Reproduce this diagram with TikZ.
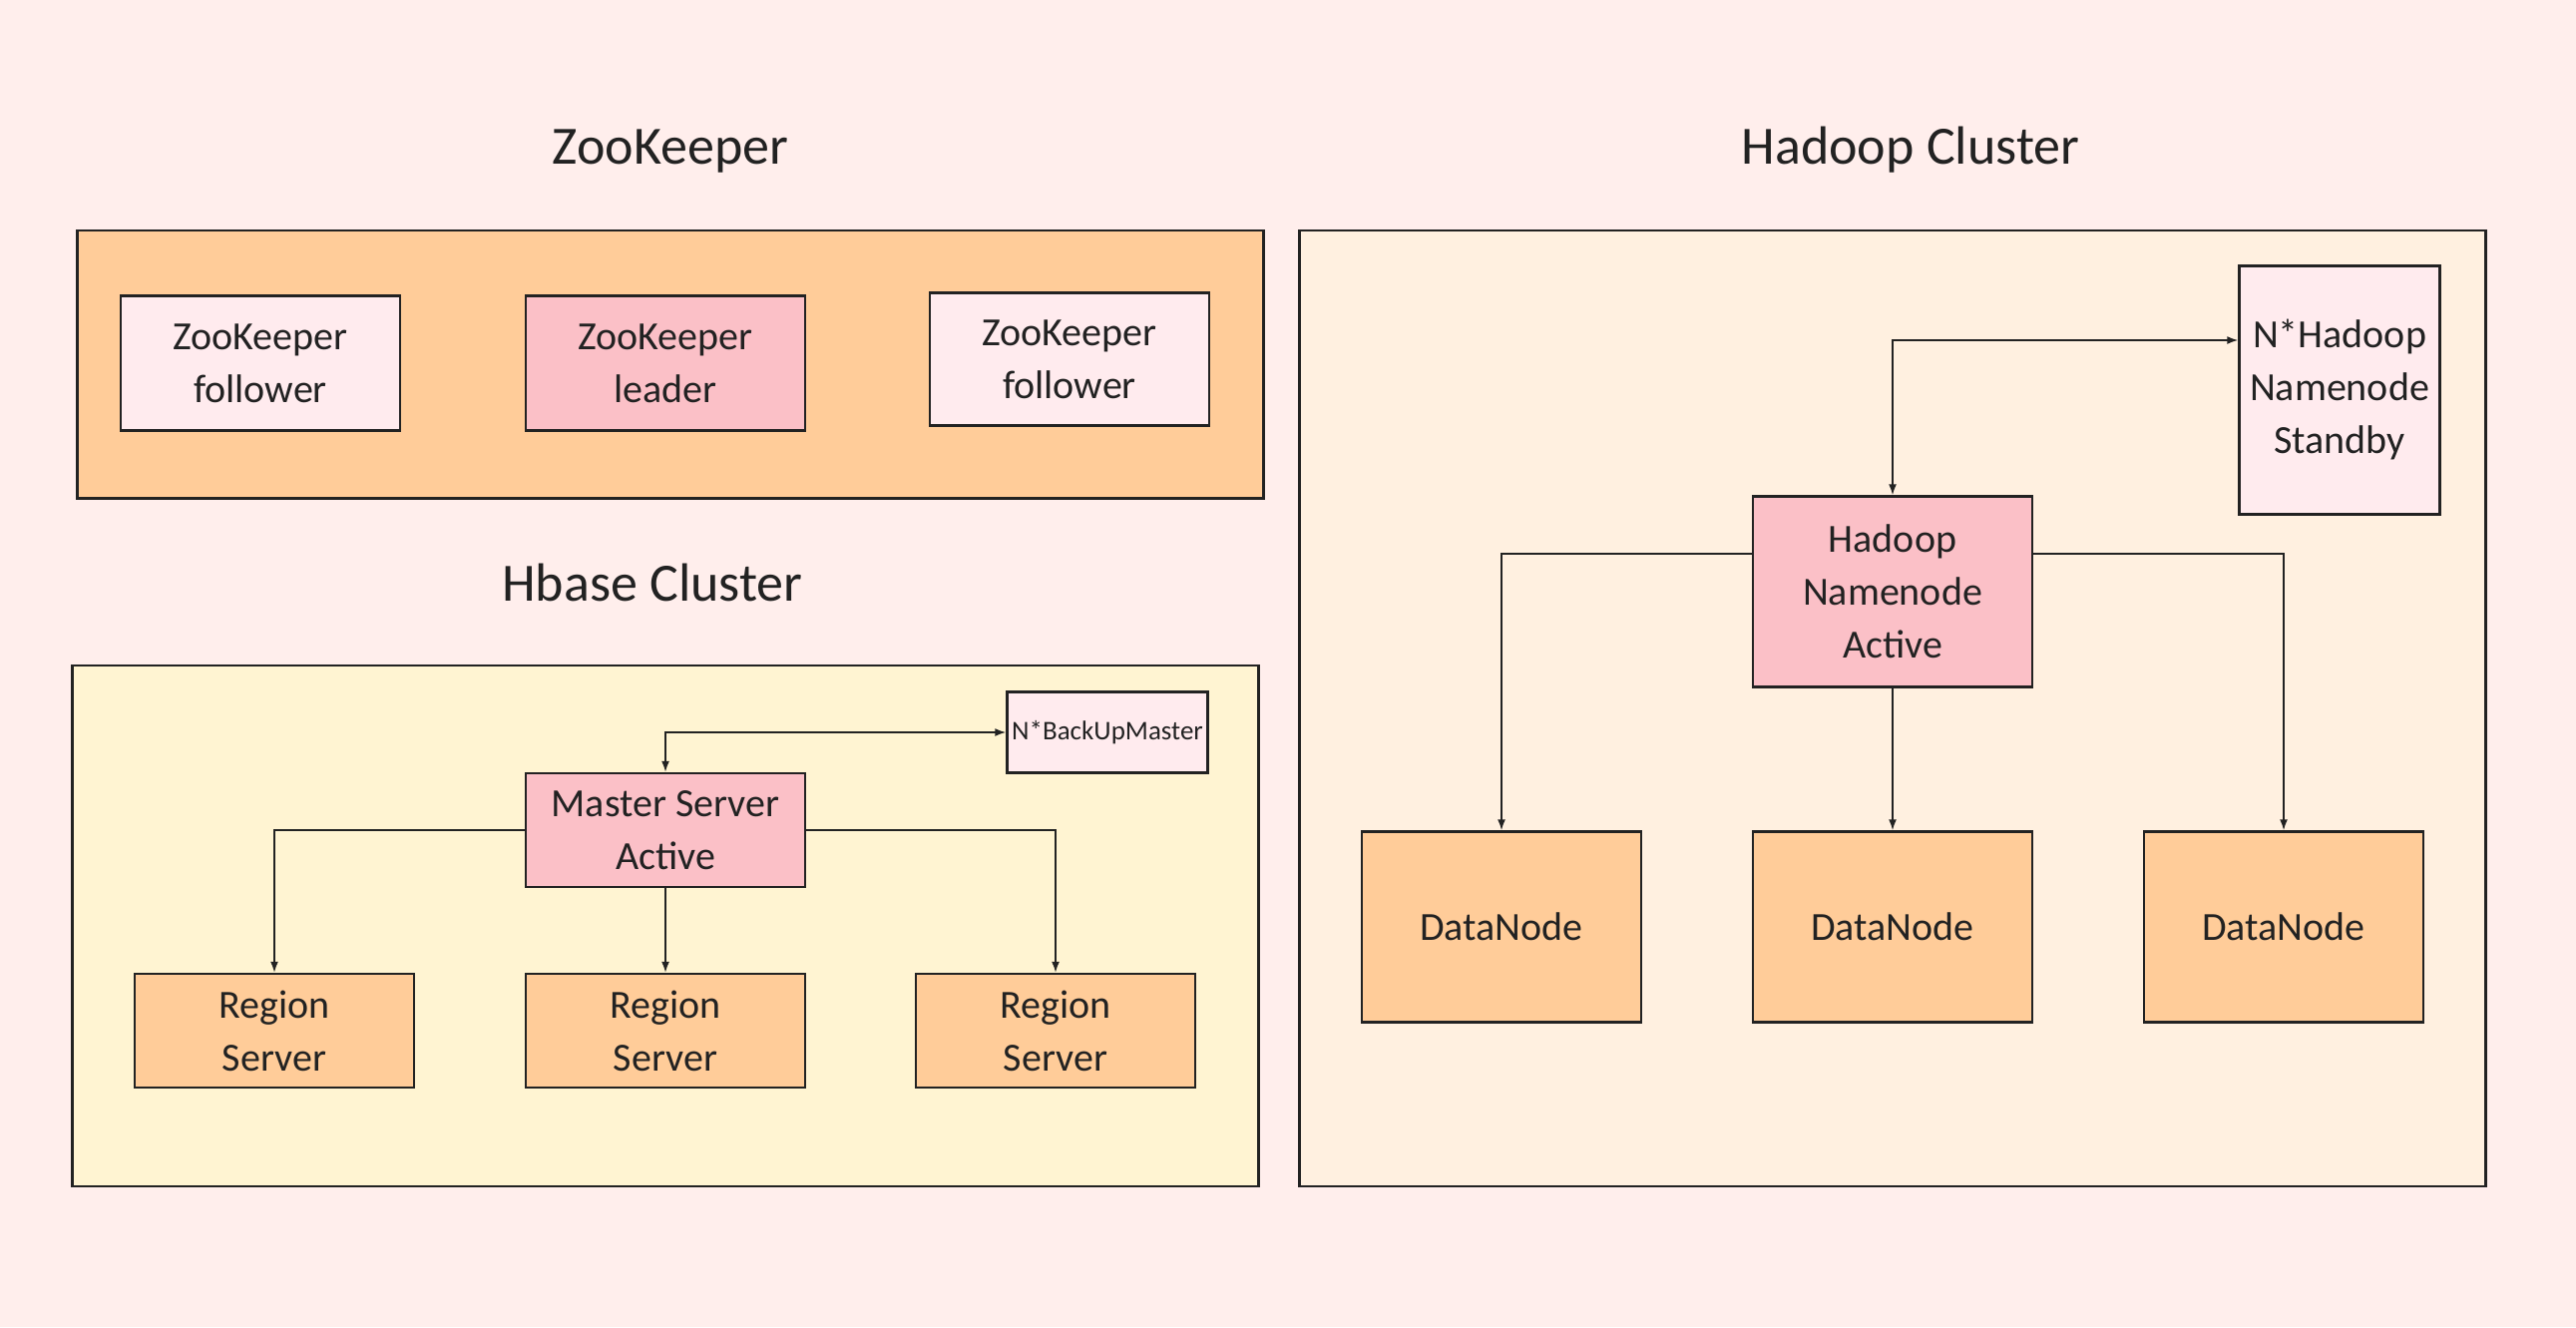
\documentclass[tikz,border=0pt]{standalone}
\usepackage{fontspec}
\setmainfont{Carlito}
\usetikzlibrary{arrows.meta}
\definecolor{bgpink}{HTML}{FFEEEC}
\definecolor{zkorange}{HTML}{FFCC99}
\definecolor{lightpink}{HTML}{FFEBEE}
\definecolor{activepink}{HTML}{FBC0C7}
\definecolor{hbaseyellow}{HTML}{FFF4D2}
\definecolor{hadoopcream}{HTML}{FFF0E0}
\definecolor{ink}{HTML}{222222}
\begin{document}
\begin{tikzpicture}[x=1pt,y=-1pt,
    group/.style={draw=ink,line width=2.5pt,minimum width=1189pt,inner sep=0pt},
    box/.style={draw=ink,line width=2.5pt,minimum width=280pt,inner sep=0pt,
      align=center,text=ink,font=\fontsize{40}{53}\selectfont},
    title/.style={anchor=base,text=ink,font=\fontsize{54}{60}\selectfont},
    link/.style={draw=ink,line width=1.6pt,-{Latex[length=11pt,width=8pt]}},
    twoway/.style={draw=ink,line width=1.6pt,
      {Latex[length=11pt,width=8pt]}-{Latex[length=11pt,width=8pt]}}]
  \fill[bgpink] (0,0) rectangle (2582,1330);
  \useasboundingbox (0,0) rectangle (2582,1330);

  \node[title] (zktitle) at (672,164) {ZooKeeper};
  \node[title] (hbtitle) at (654,602) {Hbase Cluster};
  \node[title] (hdtitle) at (1915,164) {Hadoop Cluster};

  \node[group,fill=zkorange,minimum height=268.5pt] (zk) at (672,365) {};
  \node[group,fill=hbaseyellow,minimum height=522pt] (hbase) at (667,928) {};
  \node[group,fill=hadoopcream,minimum height=958pt] (hadoop) at (1897,710) {};

  \node[box,fill=lightpink,minimum height=135pt] (zkf1) at (261,364) {ZooKeeper\\follower};
  \node[box,fill=activepink,minimum height=135pt] (zkl) at (667,364) {ZooKeeper\\leader};
  \node[box,fill=lightpink,minimum height=133pt] (zkf2) at (1072,360) {ZooKeeper\\follower};

  \node[box,fill=lightpink,minimum width=201pt,minimum height=81pt,
    font=\fontsize{27}{32}\selectfont] (backup) at (1110,734) {N*BackUpMaster};
  \node[box,fill=activepink,minimum height=114pt] (master) at (667,832) {Master Server\\Active};
  \node[box,fill=zkorange,minimum height=114pt] (rs1) at (275,1033) {Region\\Server};
  \node[box,fill=zkorange,minimum height=114pt] (rs2) at (667,1033) {Region\\Server};
  \node[box,fill=zkorange,minimum height=114pt] (rs3) at (1058,1033) {Region\\Server};

  \node[box,fill=lightpink,minimum width=201pt,minimum height=249pt] (standby) at (2345,391)
    {N*Hadoop\\Namenode\\Standby};
  \node[box,fill=activepink,minimum height=191pt] (active) at (1897,593) {Hadoop\\Namenode\\Active};
  \node[box,fill=zkorange,minimum height=191pt] (dn1) at (1505,929) {DataNode};
  \node[box,fill=zkorange,minimum height=191pt] (dn2) at (1897,929) {DataNode};
  \node[box,fill=zkorange,minimum height=191pt] (dn3) at (2289,929) {DataNode};

  \draw[twoway] (master.north) |- (backup.west);
  \draw[link] (master.west) -| (rs1.north);
  \draw[link] (master.south) -- (rs2.north);
  \draw[link] (master.east) -| (rs3.north);

  \draw[twoway] (active.north) |- ([yshift=50pt]standby.west);
  \draw[link] ([yshift=38pt]active.west) -| (dn1.north);
  \draw[link] (active.south) -- (dn2.north);
  \draw[link] ([yshift=38pt]active.east) -| (dn3.north);
\end{tikzpicture}
\end{document}
